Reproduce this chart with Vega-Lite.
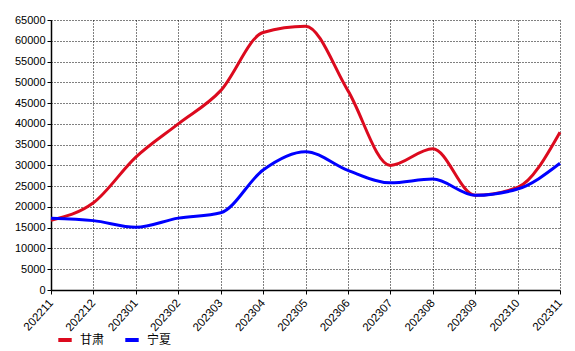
{
  "$schema": "https://vega.github.io/schema/vega-lite/v6.json",
  "autosize": "none",
  "width": 509,
  "height": 270,
  "padding": {"left": 51, "top": 20, "right": 15, "bottom": 61},
  "background": "white",
  "config": {
    "view": {"stroke": null},
    "font": "Liberation Sans"
  },
  "data": {
    "values": [
      {"month": "202211", "region": "甘肃", "value": 16800},
      {"month": "202212", "region": "甘肃", "value": 21000},
      {"month": "202301", "region": "甘肃", "value": 32000},
      {"month": "202302", "region": "甘肃", "value": 40000},
      {"month": "202303", "region": "甘肃", "value": 48000},
      {"month": "202304", "region": "甘肃", "value": 62000},
      {"month": "202305", "region": "甘肃", "value": 63500},
      {"month": "202306", "region": "甘肃", "value": 48000},
      {"month": "202307", "region": "甘肃", "value": 30000},
      {"month": "202308", "region": "甘肃", "value": 34000},
      {"month": "202309", "region": "甘肃", "value": 22800},
      {"month": "202310", "region": "甘肃", "value": 24700},
      {"month": "202311", "region": "甘肃", "value": 38000},
      {"month": "202211", "region": "宁夏", "value": 17300},
      {"month": "202212", "region": "宁夏", "value": 16700},
      {"month": "202301", "region": "宁夏", "value": 15100},
      {"month": "202302", "region": "宁夏", "value": 17300},
      {"month": "202303", "region": "宁夏", "value": 18600},
      {"month": "202304", "region": "宁夏", "value": 28900},
      {"month": "202305", "region": "宁夏", "value": 33300},
      {"month": "202306", "region": "宁夏", "value": 28800},
      {"month": "202307", "region": "宁夏", "value": 25800},
      {"month": "202308", "region": "宁夏", "value": 26700},
      {"month": "202309", "region": "宁夏", "value": 22800},
      {"month": "202310", "region": "宁夏", "value": 24300},
      {"month": "202311", "region": "宁夏", "value": 30500}
    ]
  },
  "mark": {"type": "line", "interpolate": "monotone", "strokeWidth": 3},
  "encoding": {
    "x": {
      "field": "month",
      "type": "ordinal",
      "scale": {"type": "point", "padding": 0},
      "axis": {
        "title": null,
        "labelAngle": -48,
        "labelAlign": "right",
        "labelBaseline": "middle",
        "labelFontSize": 11.5,
        "labelColor": "#000000",
        "labelPadding": 7,
        "domainColor": "#000000",
        "domainWidth": 1.5,
        "tickColor": "#000000",
        "tickSize": 4,
        "grid": true,
        "gridColor": "#000000",
        "gridDash": [1, 2],
        "gridOpacity": 1
      }
    },
    "y": {
      "field": "value",
      "type": "quantitative",
      "scale": {"domain": [0, 65000], "nice": false},
      "axis": {
        "title": null,
        "values": [0,5000,10000,15000,20000,25000,30000,35000,40000,45000,50000,55000,60000,65000],
        "format": "d",
        "labelFontSize": 11,
        "labelColor": "#000000",
        "labelPadding": 2,
        "domainColor": "#000000",
        "domainWidth": 1.5,
        "tickColor": "#000000",
        "tickSize": 4,
        "grid": true,
        "gridColor": "#000000",
        "gridDash": [1, 2],
        "gridOpacity": 1
      }
    },
    "color": {
      "field": "region",
      "type": "nominal",
      "sort": ["甘肃", "宁夏"],
      "scale": {"domain": ["甘肃", "宁夏"], "range": ["#DC0A1E", "#0000FF"]},
      "legend": {
        "title": null,
        "orient": "none",
        "direction": "horizontal",
        "legendX": 5,
        "legendY": 311,
        "symbolType": "stroke",
        "symbolStrokeWidth": 4,
        "symbolSize": 180,
        "labelFontSize": 12,
        "labelColor": "#000000",
        "labelFont": "Noto Sans CJK SC",
        "labelOffset": 6,
        "columnPadding": 12
      }
    }
  }
}
